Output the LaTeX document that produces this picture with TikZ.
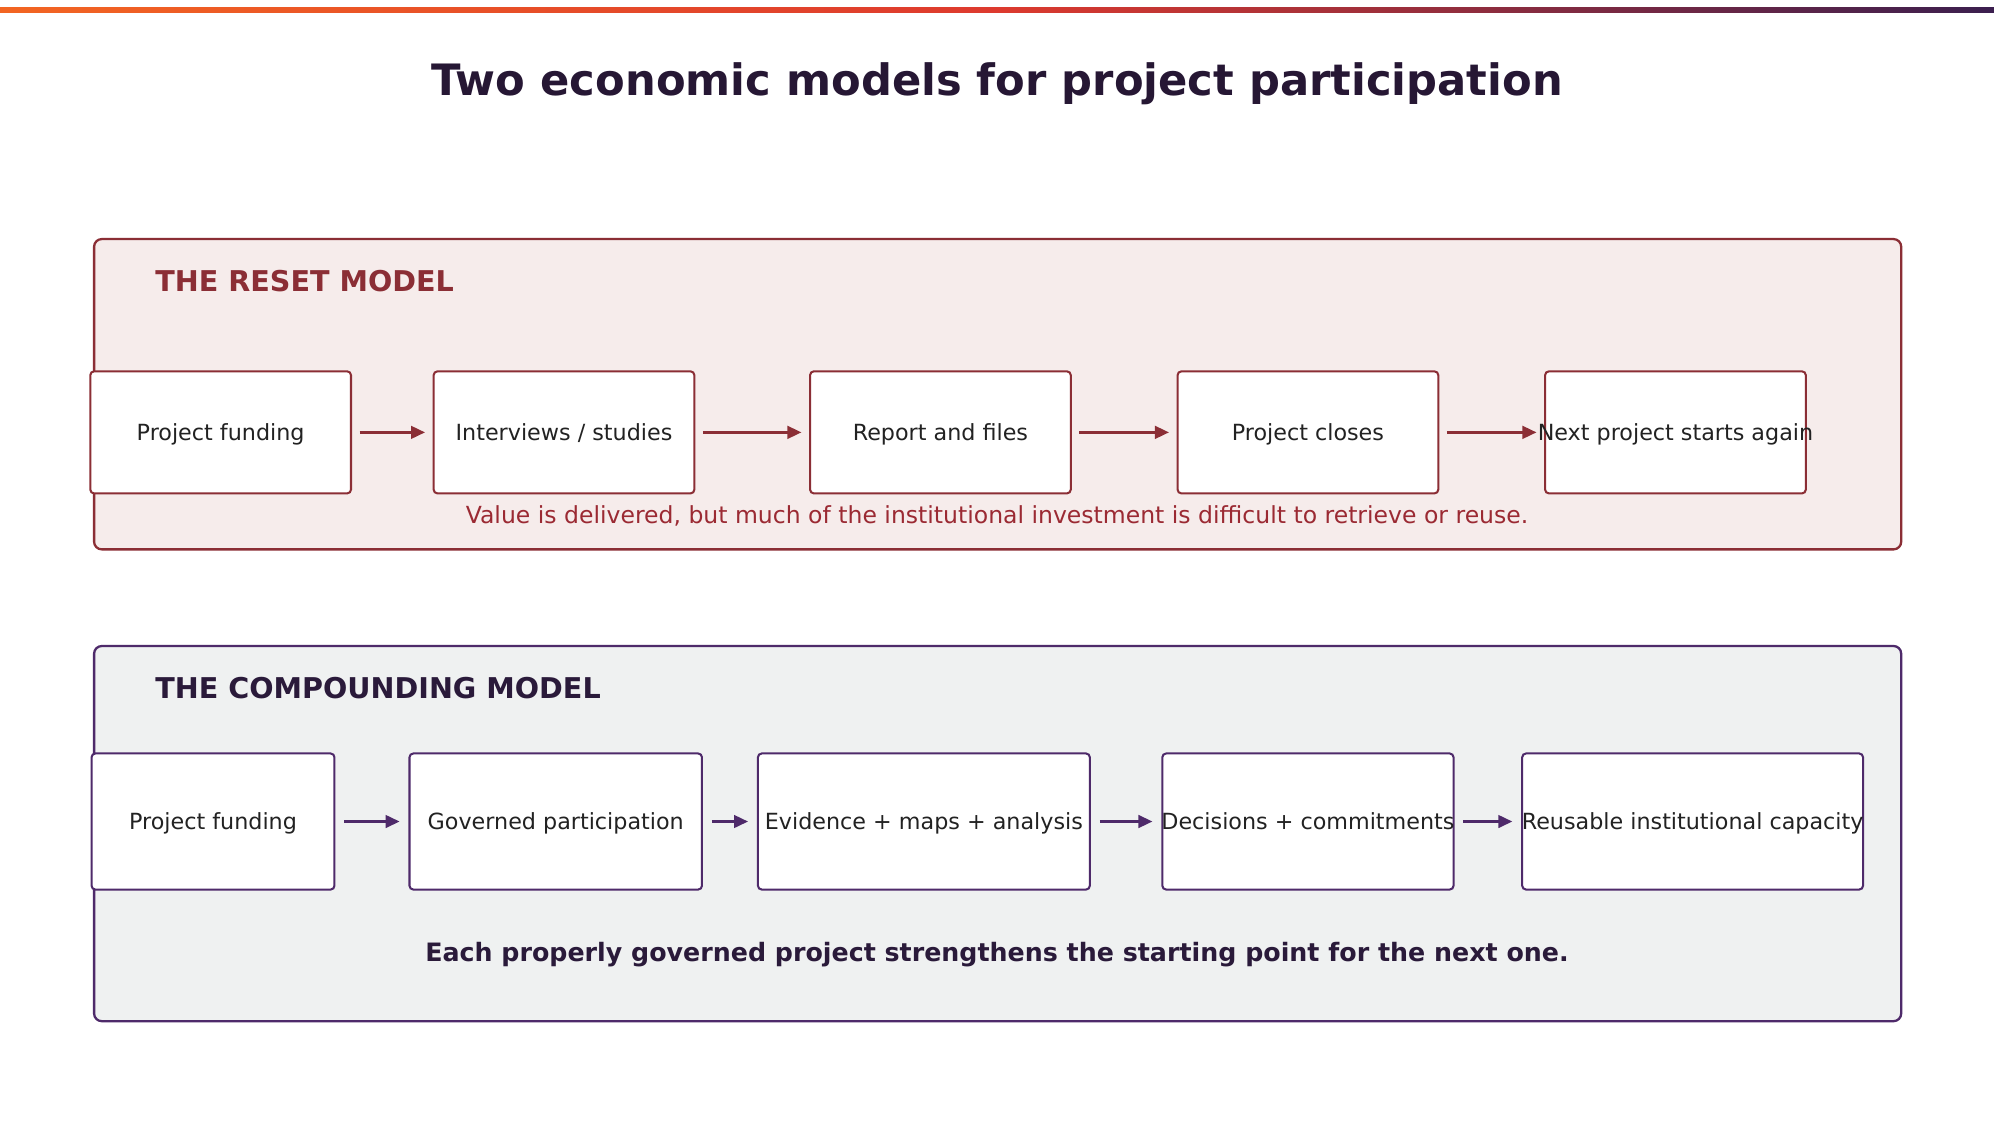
\documentclass[tikz,border=0pt]{standalone}
\usepackage{fontspec}
\setmainfont{DejaVu Sans}
\usetikzlibrary{arrows.meta}
\definecolor{red1}{HTML}{8B2E35}
\definecolor{redtxt}{HTML}{9B2A33}
\definecolor{redfill}{HTML}{F6ECEB}
\definecolor{pur1}{HTML}{4E2A6A}
\definecolor{purtxt}{HTML}{2A1A3A}
\definecolor{grfill}{HTML}{EFF1F1}
\definecolor{txt}{HTML}{222222}
\definecolor{orng}{HTML}{F26522}
\definecolor{mred}{HTML}{DD3A2E}
\definecolor{dpur}{HTML}{3B1F4F}
\begin{document}
\begin{tikzpicture}[x=1pt,y=-1pt,
  box/.style={draw=#1,fill=white,line width=1.6pt,rounded corners=3pt,font=\fontsize{17.5}{21}\selectfont,text=txt,inner sep=0pt,text depth=0pt},
  arr/.style={draw=#1,line width=1.8pt,-{Triangle[length=11pt,width=10pt]}}]
\useasboundingbox (0,0) rectangle (1568,883);
\fill[white] (0,0) rectangle (1568,883);
\shade[left color=orng,right color=dpur,middle color=mred] (0,6) rectangle (1568,10);
\node[font=\bfseries\fontsize{34}{40}\selectfont,text=purtxt!90!black] (title) at (784,66) {Two economic models for project participation};
% reset
\draw[red1,fill=redfill,line width=1.8pt,rounded corners=6pt] (74,188) rectangle (1495,432);
\node[anchor=west,inner sep=0pt,font=\bfseries\fontsize{22.5}{26}\selectfont,text=red1] (rt) at (122,221) {THE RESET MODEL};
\foreach \n/\a/\b/\t in {r1/71/276/{Project funding},r2/341/546/{Interviews / studies},r3/637/842/{Report and files},r4/926/1131/{Project closes},r5/1215/1420/{Next project starts again}}{
  \node[box=red1,minimum width={(\b-\a)*1pt},minimum height=96pt] (\n) at ({(\a+\b)/2},340) {\makebox[0pt]{\t}};}
\foreach \p/\q in {r1/r2,r2/r3,r3/r4,r4/r5}{\draw[arr=red1] ([xshift=6pt]\p.east) -- ([xshift=-6pt]\q.west);}
\node[font=\fontsize{18.5}{22}\selectfont,text=redtxt] (rc) at (784,406) {Value is delivered, but much of the institutional investment is difficult to retrieve or reuse.};
% compounding
\draw[pur1,fill=grfill,line width=1.8pt,rounded corners=6pt] (74,508) rectangle (1495,803);
\node[anchor=west,inner sep=0pt,font=\bfseries\fontsize{22.5}{26}\selectfont,text=purtxt] (ct) at (122,541) {THE COMPOUNDING MODEL};
\foreach \n/\a/\b/\t in {c1/72/263/{Project funding},c2/322/552/{Governed participation},c3/596/857/{Evidence + maps + analysis},c4/914/1143/{Decisions + commitments},c5/1197/1465/{Reusable institutional capacity}}{
  \node[box=pur1,minimum width={(\b-\a)*1pt},minimum height=107pt] (\n) at ({(\a+\b)/2},646) {\makebox[0pt]{\t}};}
\foreach \p/\q in {c1/c2,c2/c3,c3/c4,c4/c5}{\draw[arr=pur1] ([xshift=7pt]\p.east) -- ([xshift=-7pt]\q.west);}
\node[font=\bfseries\fontsize{19.9}{24}\selectfont,text=purtxt] (cc) at (784,751) {Each properly governed project strengthens the starting point for the next one.};
\end{tikzpicture}
\end{document}
